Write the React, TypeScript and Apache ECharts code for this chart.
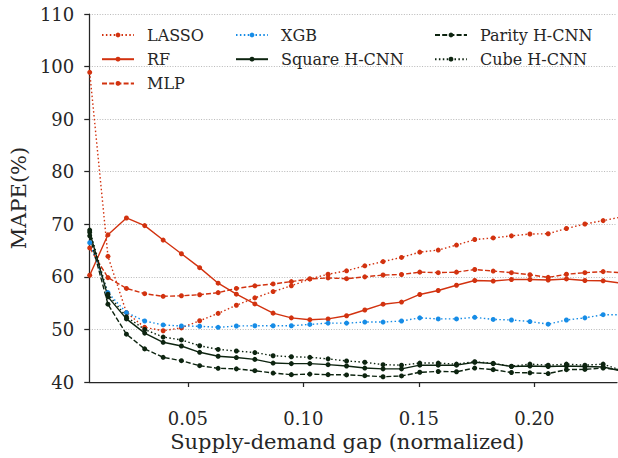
import React, { useEffect, useRef } from "react";
import * as echarts from "echarts";

const gapX = [
  0.0075, 0.0154, 0.0234, 0.0313, 0.0393, 0.0472, 0.0551, 0.0631, 0.071, 0.079,
  0.0869, 0.0948, 0.1028, 0.1107, 0.1187, 0.1266, 0.1345, 0.1425, 0.1504, 0.1584,
  0.1663, 0.1742, 0.1822, 0.1901, 0.1981, 0.206, 0.2139, 0.2219, 0.2298, 0.2378,
];

const lasso = [98.9, 63.9, 53.2, 50.4, 49.75, 50.3, 51.65, 53.05, 54.6, 56.0, 57.2, 58.3, 59.6, 60.5, 61.15, 62.1, 62.9, 63.7, 64.7, 65.1, 66.05, 67.1, 67.4, 67.8, 68.15, 68.2, 69.2, 70.05, 70.7, 71.4];
const rf = [60.3, 68.0, 71.2, 69.75, 67.0, 64.4, 61.75, 58.8, 56.7, 54.85, 53.1, 52.2, 51.85, 52.0, 52.6, 53.7, 54.8, 55.2, 56.65, 57.4, 58.4, 59.3, 59.2, 59.5, 59.5, 59.4, 59.6, 59.3, 59.25, 58.8];
const mlp = [65.5, 59.85, 57.8, 56.8, 56.3, 56.4, 56.6, 57.0, 57.8, 58.3, 58.65, 59.1, 59.6, 59.8, 59.65, 60.0, 60.35, 60.45, 60.9, 60.8, 60.9, 61.4, 61.1, 60.8, 60.4, 59.9, 60.5, 60.8, 61.0, 60.8];
const xgb = [66.5, 57.0, 53.2, 51.6, 50.85, 50.65, 50.6, 50.4, 50.65, 50.7, 50.7, 50.7, 50.95, 51.2, 51.2, 51.4, 51.4, 51.6, 52.2, 52.0, 52.0, 52.3, 51.9, 51.8, 51.5, 51.0, 51.8, 52.2, 52.8, 52.8];
const squareCnn = [68.5, 56.2, 52.0, 49.3, 47.55, 46.85, 45.65, 44.9, 44.65, 44.3, 43.6, 43.5, 43.5, 43.3, 43.05, 42.65, 42.5, 42.5, 43.2, 43.2, 43.2, 43.75, 43.5, 42.95, 43.05, 42.95, 43.05, 42.95, 42.85, 42.1];
const parityCnn = [67.8, 54.8, 49.1, 46.3, 44.7, 44.05, 43.1, 42.6, 42.5, 42.15, 41.7, 41.4, 41.5, 41.4, 41.35, 41.2, 41.0, 41.15, 41.85, 42.0, 41.95, 42.65, 42.35, 41.8, 41.75, 41.6, 42.35, 42.4, 42.65, 42.3];
const cubeCnn = [68.9, 56.7, 52.4, 50.0, 48.55, 48.0, 46.9, 46.2, 45.9, 45.6, 45.0, 44.8, 44.7, 44.4, 44.0, 43.75, 43.3, 43.2, 43.6, 43.6, 43.4, 43.85, 43.55, 43.0, 43.4, 43.2, 43.4, 43.2, 43.4, 42.2];

const xTicks = [0.05, 0.1, 0.15, 0.2];

const RED = "#d2320f";
const BLUE = "#168ce6";
const DARK = "#0d2410";
const TEXT = "#262626";
const FONT = "'DejaVu Serif', 'Liberation Serif', serif";

const DOTTED = [1.5, 2.4];
const DASHED = [5, 2.2];

const seriesDefs = [
  { name: "LASSO", data: lasso, color: RED, dash: DOTTED },
  { name: "RF", data: rf, color: RED, dash: "solid" },
  { name: "MLP", data: mlp, color: RED, dash: DASHED },
  { name: "XGB", data: xgb, color: BLUE, dash: DOTTED },
  { name: "Square H-CNN", data: squareCnn, color: DARK, dash: "solid" },
  { name: "Parity H-CNN", data: parityCnn, color: DARK, dash: DASHED },
  { name: "Cube H-CNN", data: cubeCnn, color: DARK, dash: DOTTED },
];

export default function App() {
  const ref = useRef<HTMLDivElement>(null);
  useEffect(() => {
    if (!ref.current) return;
    const chart = echarts.init(ref.current, undefined, { renderer: "svg" });
    const legendBase = {
      orient: "vertical" as const,
      padding: 0,
      itemWidth: 32,
      itemHeight: 6,
      itemGap: 8.2,
      textStyle: { fontFamily: FONT, fontSize: 16, color: TEXT, padding: [0, 0, 0, 8] },
    };
    chart.setOption({
      animation: false,
      backgroundColor: "#ffffff",
      textStyle: { fontFamily: FONT, color: TEXT },
      grid: { left: 87, right: 1, top: 14, bottom: 76 },
      legend: [
        { ...legendBase, left: 101, top: 27, data: ["LASSO", "RF", "MLP"] },
        { ...legendBase, left: 235, top: 27, data: ["XGB", "Square H-CNN"] },
        { ...legendBase, left: 434, top: 27, data: ["Parity H-CNN", "Cube H-CNN"] },
      ],
      xAxis: {
        type: "value",
        min: 0.0073,
        max: 0.2358,
        name: "Supply-demand gap (normalized)",
        nameLocation: "middle",
        nameGap: 48,
        nameTextStyle: { fontFamily: FONT, fontSize: 21, color: TEXT, padding: [0, 12, 0, 0] },
        axisLine: { show: true, lineStyle: { color: TEXT, width: 1.25 } },
        axisTick: { show: true, length: 5, customValues: xTicks, lineStyle: { color: TEXT, width: 1.25 } },
        axisLabel: {
          customValues: xTicks,
          margin: 27,
          fontFamily: FONT,
          fontSize: 18,
          color: TEXT,
          formatter: (v: number) => v.toFixed(2),
        },
        splitLine: { show: false },
      },
      yAxis: {
        type: "value",
        min: 40,
        max: 110,
        interval: 10,
        name: "MAPE(%)",
        nameLocation: "middle",
        nameGap: 58,
        nameTextStyle: { fontFamily: FONT, fontSize: 21, color: TEXT },
        axisLine: { show: true, lineStyle: { color: TEXT, width: 1.25 } },
        axisTick: { show: true, length: 5, lineStyle: { color: TEXT, width: 1.25 } },
        axisLabel: { margin: 15, fontFamily: FONT, fontSize: 18, color: TEXT },
        splitLine: { show: true, lineStyle: { color: "#b0b0b0", width: 0.9, type: [1, 1.6] } },
      },
      series: seriesDefs.map((s) => ({
        name: s.name,
        type: "line",
        data: s.data.map((v, i) => [gapX[i], v]),
        clip: true,
        symbol: "circle",
        symbolSize: 5,
        showSymbol: true,
        color: s.color,
        itemStyle: { color: s.color },
        lineStyle: { color: s.color, width: 1.4, type: s.dash },
      })),
    });
    return () => chart.dispose();
  }, []);
  return (
    <div
      ref={ref}
      style={{ position: "absolute", left: 0, top: 0, width: 618, height: 458 }}
    />
  );
}
